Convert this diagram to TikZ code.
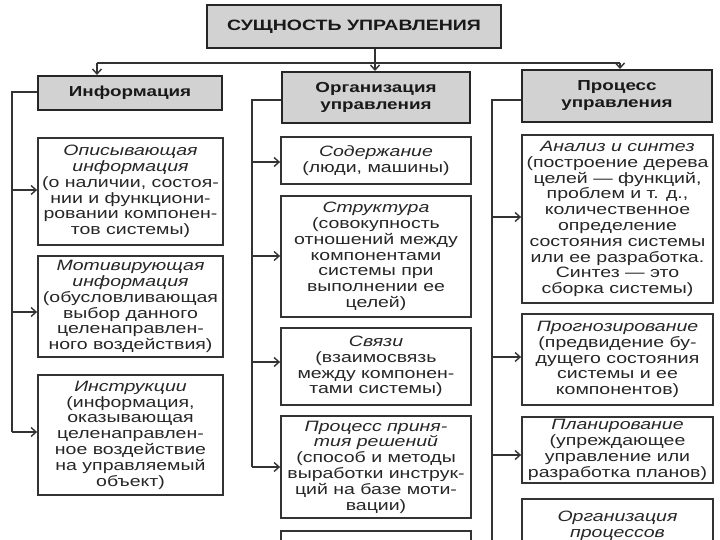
\documentclass[tikz,border=0pt]{standalone}
\usepackage{fontspec}
\setmainfont{Liberation Sans}
\newfontfamily\widesans[FakeStretch=1.3]{Liberation Sans}
\newfontfamily\hdrsans[FakeStretch=1.3]{Liberation Sans}
\usetikzlibrary{arrows.meta}
\begin{document}
\begin{tikzpicture}[x=1pt,y=-1pt,
  hdr/.style={draw=black!85, line width=2pt, fill=gray!35, align=center, inner sep=0pt, text=black!90,
    font=\hdrsans\bfseries\fontsize{14.5}{17}\selectfont},
  cbox/.style={draw=black!80, line width=1.8pt, fill=white, align=center, inner sep=0pt, text=black!85,
    font=\widesans\fontsize{15}{15.8}\selectfont},
  conn/.style={draw=black!80, line width=1.4pt},
  arr/.style={conn, -{Straight Barb[length=5pt,width=9pt,line width=1.4pt]}}
]
\clip (0,0) rectangle (720,540);
\fill[white] (0,0) rectangle (720,540);

% header
\node[hdr, minimum width=294pt, minimum height=43pt, font=\hdrsans\bfseries\fontsize{15}{18}\selectfont] (top) at (354,26.5) {СУЩНОСТЬ УПРАВЛЕНИЯ};
\node[hdr, minimum width=184pt, minimum height=34pt] (inf) at (130,93) {Информация};
\node[hdr, minimum width=188pt, minimum height=51pt] (org) at (376,97.5) {Организация\\управления};
\node[hdr, minimum width=190pt, minimum height=52pt] (proc) at (617,96) {Процесс\\управления};

% left column
\node[cbox, minimum width=185pt, minimum height=107pt] (l1) at (130.5,191.5)
  {\textit{Описывающая}\\\textit{информация}\\(о наличии, состоя-\\нии и функциони-\\ровании компонен-\\тов системы)};
\node[cbox, minimum width=185pt, minimum height=101pt] (l2) at (130.5,306.5)
  {\textit{Мотивирующая}\\\textit{информация}\\(обусловливающая\\выбор данного\\целенаправлен-\\ного воздействия)};
\node[cbox, minimum width=185pt, minimum height=120pt] (l3) at (130.5,435)
  {\textit{Инструкции}\\(информация,\\оказывающая\\целенаправлен-\\ное воздействие\\на управляемый\\объект)};

% middle column
\node[cbox, minimum width=190pt, minimum height=47pt] (m1) at (376,160.5)
  {\textit{Содержание}\\(люди, машины)};
\node[cbox, minimum width=190pt, minimum height=121pt] (m2) at (376,256.5)
  {\textit{Структура}\\(совокупность\\отношений между\\компонентами\\системы при\\выполнении ее\\целей)};
\node[cbox, minimum width=190pt, minimum height=77pt] (m3) at (376,366.5)
  {\textit{Связи}\\(взаимосвязь\\между компонен-\\тами системы)};
\node[cbox, minimum width=190pt, minimum height=102pt] (m4) at (376,467)
  {\textit{Процесс приня-}\\\textit{тия решений}\\(способ и методы\\выработки инструк-\\ций на базе моти-\\вации)};
\node[cbox, minimum width=190pt, minimum height=50pt] (m5) at (376,556) {};

% right column
\node[cbox, minimum width=191pt, minimum height=168pt] (r1) at (617.5,219)
  {\textit{Анализ и синтез}\\(построение дерева\\целей — функций,\\проблем и т. д.,\\количественное\\определение\\состояния системы\\или ее разработка.\\Синтез — это\\сборка системы)};
\node[cbox, minimum width=191pt, minimum height=91pt] (r2) at (617.5,359.5)
  {\textit{Прогнозирование}\\(предвидение бу-\\дущего состояния\\системы и ее\\компонентов)};
\node[cbox, minimum width=191pt, minimum height=66pt] (r3) at (617.5,450)
  {\textit{Планирование}\\(упреждающее\\управление или\\разработка планов)};
\node[cbox, minimum width=191pt, minimum height=54pt] (r4) at (617.5,526)
  {\textit{Организация}\\\textit{процессов}};

% top connectors
\coordinate (busl) at (97,63);
\coordinate (busr) at (620,63);
\coordinate (busm) at (375,63);
\draw[conn] (busl) -- (busr);
\draw[conn] (top.south -| busm) -- (busm);
\draw[arr] (busl) -- (busl |- inf.north);
\draw[arr] (busm) -- (busm |- org.north);
\draw[arr] (busr) -- (busr |- proc.north);

% left trunk
\coordinate (lt) at (12,92);
\coordinate (lb) at (12,432);
\draw[conn] (inf.west |- lt) -- (lt) -- (lb);
\draw[arr] (lb) -- (l3.west |- lb);
\coordinate (la1) at (12,190);
\coordinate (la2) at (12,312);
\draw[arr] (la1) -- (l1.west |- la1);
\draw[arr] (la2) -- (l2.west |- la2);

% middle trunk
\coordinate (mt) at (252,100);
\coordinate (mb) at (252,467);
\draw[conn] (org.west |- mt) -- (mt) -- (mb);
\draw[arr] (mb) -- (m4.west |- mb);
\coordinate (ma1) at (252,162);
\coordinate (ma2) at (252,256);
\coordinate (ma3) at (252,362);
\draw[arr] (ma1) -- (m1.west |- ma1);
\draw[arr] (ma2) -- (m2.west |- ma2);
\draw[arr] (ma3) -- (m3.west |- ma3);

% right trunk
\coordinate (rt) at (492,100);
\coordinate (rb) at (492,545);
\draw[conn] (proc.west |- rt) -- (rt) -- (rb);
\coordinate (ra1) at (492,217);
\coordinate (ra2) at (492,357);
\coordinate (ra3) at (492,455);
\draw[arr] (ra1) -- (r1.west |- ra1);
\draw[arr] (ra2) -- (r2.west |- ra2);
\draw[arr] (ra3) -- (r3.west |- ra3);
\end{tikzpicture}
\end{document}
